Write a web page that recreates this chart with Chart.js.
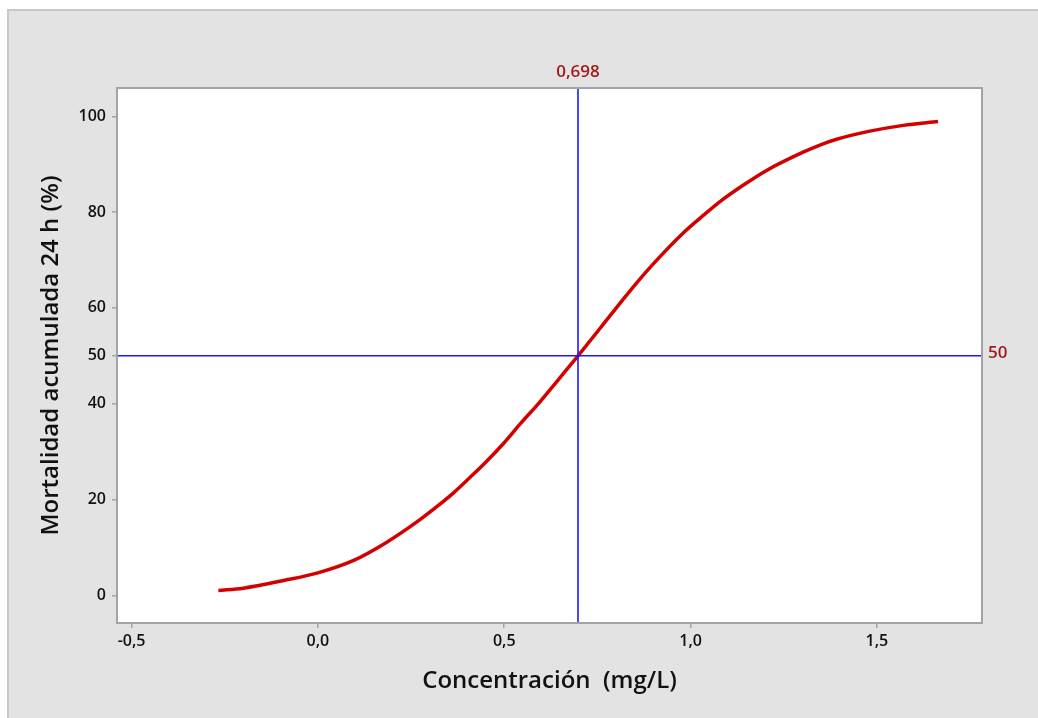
<!DOCTYPE html>
<html>
<head>
<meta charset="utf-8">
<script src="https://cdn.jsdelivr.net/npm/chart.js@4/dist/chart.umd.min.js"></script>
<style>
  body { margin: 0; background: #ffffff; }
  #wrap { width: 1038px; height: 718px; }
</style>
</head>
<body>
<div id="wrap"><canvas id="c" width="1038" height="718"></canvas></div>
<script>
// ---- data ----
const concX = [-0.267, -0.2, -0.092, 0.0, 0.096, 0.185, 0.274, 0.319, 0.364, 0.408, 0.453, 0.498,
               0.543, 0.596, 0.645, 0.698, 0.766, 0.811, 0.856, 0.900, 0.981, 1.034, 1.079,
               1.141, 1.204, 1.302, 1.347, 1.392, 1.481, 1.571, 1.664];
const mortY = [1.0, 1.5, 3.1, 4.7, 7.3, 11.1, 15.8, 18.5, 21.4, 24.6, 28.0, 31.7,
               35.8, 40.4, 45.0, 50.0, 56.6, 61.0, 65.3, 69.2, 75.7, 79.3, 82.2,
               85.6, 88.7, 92.5, 94.0, 95.2, 96.9, 98.1, 98.9];
const xTicks = [-0.5, 0, 0.5, 1.0, 1.5];
const yTicks = [0, 20, 40, 50, 60, 80, 100];
const xRange = [-0.539, 1.782];
const yRange = [-5.77, 105.9];
const refX = 0.698;
const refY = 50;

const FONT = "'Open Sans', 'Noto Sans', sans-serif";
const fmt = v => v.toFixed(1).replace(".", ",");

const curve = concX.map((x, i) => ({ x: x, y: mortY[i] }));

// panel + plot frame + reference labels
const frame = {
  id: "frame",
  beforeDraw(chart) {
    const ctx = chart.ctx, a = chart.chartArea;
    ctx.save();
    ctx.fillStyle = "#ffffff";
    ctx.fillRect(0, 0, chart.width, chart.height);
    ctx.fillStyle = "#e3e3e3";
    ctx.fillRect(8, 10, chart.width, chart.height);
    ctx.strokeStyle = "#c8c8c8";
    ctx.lineWidth = 2;
    ctx.beginPath();
    ctx.moveTo(8, chart.height);
    ctx.lineTo(8, 10);
    ctx.lineTo(chart.width, 10);
    ctx.stroke();
    ctx.fillStyle = "#ffffff";
    ctx.fillRect(a.left, a.top, a.right - a.left, a.bottom - a.top);
    ctx.restore();
  },
  afterDraw(chart) {
    const ctx = chart.ctx, a = chart.chartArea;
    const xs = chart.scales.x, ys = chart.scales.y;
    ctx.save();
    ctx.strokeStyle = "#a3a3a3";
    ctx.lineWidth = 2;
    ctx.strokeRect(a.left, a.top, a.right - a.left, a.bottom - a.top);
    ctx.fillStyle = "#9e1a1a";
    ctx.font = "600 17px " + FONT;
    ctx.textAlign = "center";
    ctx.textBaseline = "middle";
    ctx.fillText(refX.toFixed(3).replace(".", ","), xs.getPixelForValue(refX), 72);
    ctx.textAlign = "left";
    ctx.fillText(String(refY), a.right + 6, ys.getPixelForValue(refY) - 3);
    ctx.restore();
  }
};

new Chart(document.getElementById("c"), {
  type: "scatter",
  data: {
    datasets: [
      {
        label: "ref x",
        data: [{ x: refX, y: yRange[0] }, { x: refX, y: yRange[1] }],
        showLine: true, borderColor: "#1a1aff", borderWidth: 1.6, pointRadius: 0
      },
      {
        label: "ref y",
        data: [{ x: xRange[0], y: refY }, { x: xRange[1], y: refY }],
        showLine: true, borderColor: "#1a1aff", borderWidth: 1.6, pointRadius: 0
      },
      {
        label: "Mortalidad",
        data: curve,
        showLine: true, borderColor: "#d40000", borderWidth: 3.5,
        pointRadius: 0, cubicInterpolationMode: "monotone"
      }
    ]
  },
  options: {
    responsive: false,
    animation: false,
    layout: { padding: { left: 0, top: 88, right: 56, bottom: 0 } },
    plugins: { legend: { display: false }, tooltip: { enabled: false } },
    scales: {
      x: {
        type: "linear", min: xRange[0], max: xRange[1],
        afterBuildTicks: s => { s.ticks = xTicks.map(v => ({ value: v })); },
        afterFit: s => { s.height = 95; },
        border: { display: false },
        grid: { drawOnChartArea: false, drawTicks: true, tickLength: 5, color: "#a3a3a3", lineWidth: 1.5 },
        ticks: { padding: 4, color: "#111111", font: { family: FONT, size: 16, weight: "600" }, callback: v => fmt(v), maxRotation: 0 },
        title: { display: true, text: "Concentración  (mg/L)", color: "#111111",
                 font: { family: FONT, size: 24, weight: "600" }, padding: { top: 0, bottom: 22 } }
      },
      y: {
        type: "linear", min: yRange[0], max: yRange[1],
        afterBuildTicks: s => { s.ticks = yTicks.map(v => ({ value: v })); },
        afterFit: s => { s.width = 117; },
        border: { display: false },
        grid: { drawOnChartArea: false, drawTicks: true, tickLength: 5, color: "#a3a3a3", lineWidth: 1.5 },
        ticks: { padding: 6, color: "#111111", font: { family: FONT, size: 16, weight: "600" }, callback: v => String(v) },
        title: { display: true, text: "Mortalidad acumulada 24 h (%)", color: "#111111",
                 font: { family: FONT, size: 24, weight: "600" }, padding: { top: 37, bottom: 0 } }
      }
    }
  },
  plugins: [frame]
});
</script>
</body>
</html>
